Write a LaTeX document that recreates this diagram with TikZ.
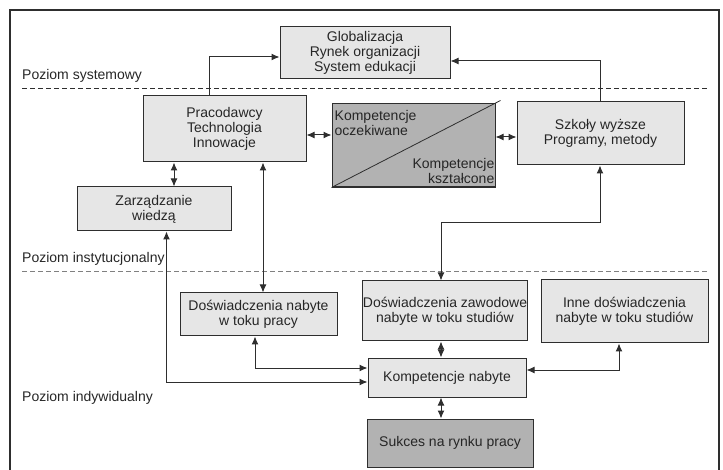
\documentclass[tikz,border=0pt]{standalone}
\usepackage{fontspec}
\setmainfont{Liberation Sans}
\usetikzlibrary{arrows.meta,calc}
\definecolor{boxlight}{HTML}{E6E6E6}
\definecolor{boxdark}{HTML}{B2B2B2}
\definecolor{linegray}{HTML}{2E2E2E}
\begin{document}
\begin{tikzpicture}[x=1pt,y=-1pt,
		font=\fontsize{14}{14.8}\selectfont,
		box/.style={draw=linegray, line width=1pt, fill=boxlight, rectangle, align=center, inner sep=0pt, text=black!85},
		arr/.style={line width=1pt, draw=linegray, -{Latex[length=8pt,width=7pt]}},
		darr/.style={line width=1pt, draw=linegray, {Latex[length=8pt,width=7pt]}-{Latex[length=8pt,width=7pt]}},
		level/.style={anchor=base west, inner sep=0pt, text=black!85},
		sep/.style={dash pattern=on 5pt off 3pt, line width=0.9pt}]
			
			\useasboundingbox (0,0) rectangle (723,470);
			\draw[linegray, line width=1.2pt] (10,470) |- (719,10) -- (719,470);
			
			% levels
			\draw[sep, linegray] (22,88) -- (707,88);
			\draw[sep, gray] (22,271) -- (707,271);
			\node[level] (lvlsys) at (22,80) {Poziom systemowy};
			\node[level] (lvlinst) at (22,263) {Poziom instytucjonalny};
			\node[level] (lvlind) at (22,401) {Poziom indywidualny};
			
			% boxes
			\node[box, minimum width=170pt, minimum height=52pt] (glob) at (365,53) {Globalizacja\\Rynek organizacji\\System edukacji};
			\node[box, minimum width=163pt, minimum height=66pt] (praco) at (224.5,129) {Pracodawcy\\Technologia\\Innowacje};
			\node[box, fill=boxdark, minimum width=163pt, minimum height=83pt] (komp) at (413.5,145.5) {};
			\node[box, minimum width=167pt, minimum height=63pt] (szkoly) at (600.5,133.5) {Szkoły wyższe\\Programy, metody};
			\node[box, minimum width=154pt, minimum height=44pt] (zarz) at (154,209) {Zarządzanie\\wiedzą};
			\node[box, minimum width=157pt, minimum height=43pt] (dnab) at (258.5,314.5) {Doświadczenia nabyte\\w toku pracy};
			\node[box, minimum width=162pt, minimum height=60pt] (dzaw) at (445,311) {Doświadczenia zawodowe\\nabyte w toku studiów};
			\node[box, minimum width=167pt, minimum height=63pt] (inne) at (624.5,311.5) {Inne doświadczenia\\nabyte w toku studiów};
			\node[box, minimum width=158pt, minimum height=39pt] (knab) at (447,377.5) {Kompetencje nabyte};
			\node[box, fill=boxdark, minimum width=166pt, minimum height=48pt] (sukces) at (450,443) {Sukces na rynku pracy};
			
			% split box
			\draw[linegray, line width=0.8pt] (komp.south west) -- ($(komp.north east)+(5,-3)$);
			\draw[linegray, line width=1.8pt] (komp.south west) -- (komp.south east);
			\node[anchor=north west, inner sep=0pt, align=left, text=black!85] (kocz) at ($(komp.north west)+(3,7)$) {Kompetencje\\oczekiwane};
			\node[anchor=south east, inner sep=0pt, align=right, text=black!85] (kksz) at ($(komp.south east)+(-1,-4)$) {Kompetencje\\kształcone};
			
			% connectors
			\draw[arr] ($(praco.north)+(-15.5,0)$) |- ($(glob.west)+(0,4)$);
			\draw[arr] ($(szkoly.north)+(-0.5,0)$) |- ($(glob.east)+(0,8)$);
			\draw[darr] ($(praco.east)+(0,6)$) -- ($(komp.west)+(0,-10.5)$);
			\draw[darr] ($(komp.east)+(0,-8.5)$) -- ($(szkoly.west)+(0,3.5)$);
			\draw[darr] ($(praco.south)+(-50.5,0)$) -- ($(zarz.north)+(20,0)$);
			\draw[darr] ($(praco.south)+(38.5,0)$) -- ($(dnab.north)+(4.5,0)$);
			\draw[darr] ($(szkoly.south)+(-0.5,0)$) -- ++(0,57) -| ($(dzaw.north)+(-4,0)$);
			\draw[darr] ($(zarz.south)+(12.5,0)$) |- ($(knab.west)+(0,4.5)$);
			\draw[darr] ($(dnab.south)+(-3.5,0)$) |- ($(knab.west)+(0,-9.5)$);
			\draw[darr] ($(dzaw.south)+(-4,0)$) -- ($(knab.north)+(-6,0)$);
			\draw[darr] ($(inne.south)+(-5.5,0)$) |- ($(knab.east)+(0,-7.5)$);
			\draw[darr] ($(knab.south)+(-6,0)$) -- ($(sukces.north)+(-9,0)$);
			
		\end{tikzpicture}
\end{document}
